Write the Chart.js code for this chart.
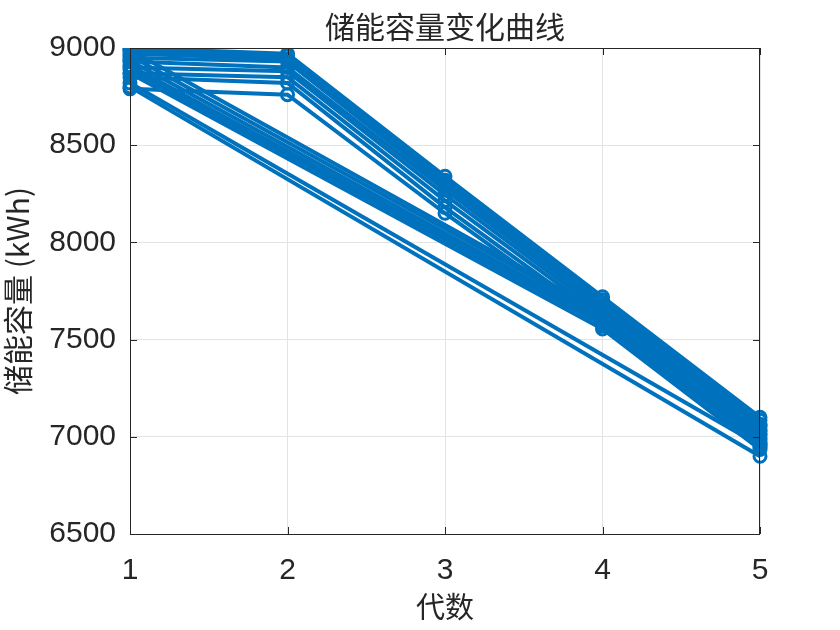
<!DOCTYPE html>
<html>
<head>
<meta charset="utf-8">
<script src="https://cdn.jsdelivr.net/npm/chart.js@4.4.1/dist/chart.umd.min.js"></script>
<style>
html,body{margin:0;padding:0;background:#fff;}
#c{display:block;}
</style>
</head>
<body>
<canvas id="c" width="840" height="630"></canvas>
<script>
// categories (generation index)
const generations = ['1', '2', '3', '4', '5'];
// y tick range
const yMin = 6500, yMax = 9000, yStep = 500;

// series with values at every generation
const seriesA1 = [9000, 8970, 8340, 7720, 7100];
const seriesA2 = [8985, 8960, 8320, 7705, 7085];
const seriesA3 = [8970, 8945, 8305, 7690, 7065];
const seriesA4 = [8950, 8930, 8290, 7675, 7050];
const seriesA5 = [8930, 8900, 8270, 7660, 7035];
const seriesA6 = [8900, 8880, 8245, 7640, 7015];
const seriesA7 = [8870, 8850, 8215, 7620, 6995];
const seriesA8 = [8850, 8820, 8180, 7595, 6970];
const seriesA9 = [8790, 8760, 8150, 7570, 6945];
// series with values only at generations 1, 4, 5
const seriesB1 = [8990, null, null, 7640, 7060];
const seriesB2 = [8960, null, null, 7625, 7030];
const seriesB3 = [8935, null, null, 7605, 7010];
const seriesB4 = [8910, null, null, 7590, 6985];
const seriesB5 = [8890, null, null, 7575, 6960];
const seriesB6 = [8870, null, null, 7555, 6935];
// series with values only at generations 1 and 5
const seriesC1 = [8820, null, null, null, 6955];
const seriesC2 = [8800, null, null, null, 6900];

const allSeries = [seriesA1, seriesA2, seriesA3, seriesA4, seriesA5, seriesA6, seriesA7, seriesA8, seriesA9,
  seriesB1, seriesB2, seriesB3, seriesB4, seriesB5, seriesB6, seriesC1, seriesC2];

const blue = '#0072BD';
const datasets = allSeries.map((d, i) => ({
  label: 'S' + (i + 1),
  data: d,
  borderColor: blue,
  borderWidth: 4,
  pointStyle: 'circle',
  pointRadius: 6,
  pointBorderWidth: 3,
  pointBorderColor: blue,
  pointBackgroundColor: 'rgba(0,0,0,0)',
  spanGaps: true,
  tension: 0,
  fill: false
}));

const FONT = "'Liberation Sans', Arial, 'Noto Sans CJK SC', sans-serif";
const CJK = "'Noto Sans CJK SC', 'Liberation Sans', sans-serif";

const boxPlugin = {
  id: 'box',
  afterDraw(chart) {
    const ctx = chart.ctx, a = chart.chartArea;
    ctx.save();
    ctx.strokeStyle = '#262626';
    ctx.lineWidth = 1;
    ctx.strokeRect(a.left + 0.5, a.top + 0.5, a.right - a.left - 1, a.bottom - a.top);
    const tl = 7;
    const xs = chart.scales.x, ys = chart.scales.y;
    ctx.beginPath();
    xs.ticks.forEach((t, i) => {
      const px = Math.round(xs.getPixelForTick(i)) + 0.5;
      ctx.moveTo(px, a.bottom); ctx.lineTo(px, a.bottom - tl);
      ctx.moveTo(px, a.top); ctx.lineTo(px, a.top + tl);
    });
    ys.ticks.forEach((t, i) => {
      const py = Math.round(ys.getPixelForTick(i)) + 0.5;
      ctx.moveTo(a.left, py); ctx.lineTo(a.left + tl, py);
      ctx.moveTo(a.right, py); ctx.lineTo(a.right - tl, py);
    });
    ctx.stroke();
    ctx.restore();
  }
};

new Chart(document.getElementById('c'), {
  type: 'line',
  data: { labels: generations, datasets },
  options: {
    responsive: false,
    animation: false,
    devicePixelRatio: 1,
    layout: { padding: { left: 0, right: 80, top: 0, bottom: 0 } },
    plugins: {
      legend: { display: false },
      tooltip: { enabled: false },
      title: {
        display: true,
        fullSize: false,
        text: '储能容量变化曲线',
        color: '#262626',
        font: { family: CJK, size: 30, weight: 'normal' },
        padding: { top: 9, bottom: 3 }
      }
    },
    scales: {
      x: {
        type: 'category',
        offset: false,
        grid: { color: '#e3e3e3', drawTicks: false, lineWidth: 1 },
        border: { display: false },
        ticks: { color: '#262626', font: { family: FONT, size: 30 }, padding: 19, maxRotation: 0 },
        title: { display: true, text: '代数', color: '#262626', font: { family: CJK, size: 29, weight: 'normal' }, padding: { top: 0, bottom: 6 } },
        afterFit(s) { s.height = 96; }
      },
      y: {
        min: yMin, max: yMax,
        grid: { color: '#e3e3e3', drawTicks: false, lineWidth: 1 },
        border: { display: false },
        ticks: { stepSize: yStep, color: '#262626', font: { family: FONT, size: 30 }, padding: 14,
                 callback: v => String(v) },
        title: { display: true, text: '储能容量 (kWh)', color: '#262626', font: { family: CJK, size: 30, weight: 'normal' }, padding: { top: 0, bottom: 4 } },
        afterFit(s) { s.width = 130; }
      }
    }
  },
  plugins: [boxPlugin]
});
</script>
</body>
</html>
